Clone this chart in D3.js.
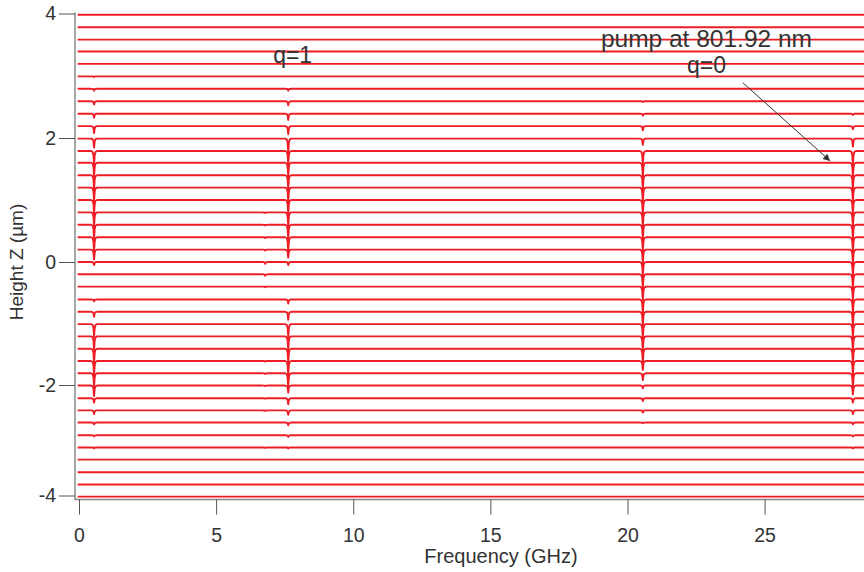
<!DOCTYPE html>
<html><head><meta charset="utf-8">
<script src="https://cdn.jsdelivr.net/npm/d3@7"></script>
<style>
body{margin:0;background:#fff;}
svg{display:block;}
text{font-family:"Liberation Sans",Arial,sans-serif;fill:#333;}
</style>
</head><body>
<svg id="c" width="864" height="572"></svg>
<script>
// ---- data ----
// vertical position (Height Z, µm) of each of the 40 spectra, top to bottom
const traceHeights = [3.98,3.78,3.58,3.39,3.19,2.99,2.79,2.59,2.39,2.19,
  1.99,1.79,1.60,1.40,1.20,1.00,0.80,0.60,0.40,0.20,
  0.00,-0.20,-0.40,-0.61,-0.81,-1.01,-1.21,-1.41,-1.61,-1.81,
  -2.01,-2.24,-2.46,-2.68,-2.91,-3.13,-3.35,-3.58,-3.80,-4.02];
// dip (resonance) frequencies in GHz
const dipFreqs = [0.55, 6.79, 7.63, 20.56, 28.22];
// dip depths per trace (same units as the height axis), one array per resonance
const dip055 = [0,0,0,0,0,0.01,0.03,0.05,0.065,0.11,
  0.145,0.23,0.23,0.23,0.23,0.23,0.23,0.23,0.23,0.16,
  0.05,0,0,0.03,0.08,0.21,0.23,0.23,0.23,0.21,
  0.19,0.08,0.065,0.03,0.02,0.02,0,0,0,0];
const dip679 = [0,0,0,0,0,0,0,0,0,0,
  0,0,0,0,0,0,0.01,0.01,0.015,0.015,
  0.03,0.025,0.01,0,0,0,0,0,0.01,0.01,
  0.01,0.01,0.01,0,0,0.01,0,0,0,0];
const dip763 = [0,0,0,0,0,0,0.03,0.065,0.1,0.13,
  0.23,0.23,0.23,0.23,0.23,0.23,0.23,0.23,0.23,0.13,
  0.05,0,0,0.065,0.13,0.23,0.23,0.23,0.23,0.23,
  0.13,0.11,0.08,0.05,0.03,0.02,0,0,0,0];
const dip2056 = [0,0,0,0,0,0,0,0.01,0.03,0.065,
  0.1,0.23,0.23,0.23,0.23,0.23,0.23,0.23,0.23,0.23,
  0.23,0.23,0.23,0.23,0.23,0.23,0.23,0.23,0.145,0.11,
  0.05,0.05,0.04,0.01,0,0,0,0,0,0];
const dip2822 = [0,0,0,0,0,0,0,0,0.02,0.05,
  0.13,0.23,0.23,0.23,0.23,0.23,0.23,0.23,0.23,0.23,
  0.23,0.23,0.23,0.23,0.23,0.23,0.23,0.23,0.23,0.23,
  0.16,0.08,0.065,0.03,0.02,0.02,0,0,0,0];
const dipDepths = [dip055, dip679, dip763, dip2056, dip2822];
const freqRange = [-0.05, 29];
const xTicks = [0,5,10,15,20,25];
const yTicks = [-4,-2,0,2,4];
// annotations: [freq, height, text]
const labels = [[7.79, 3.20, "q=1"], [22.88, 3.46, "pump at 801.92 nm"], [22.88, 3.04, "q=0"]];
const arrowFrom = [24.2, 2.89], arrowTo = [27.39, 1.63];

// ---- drawing ----
const svg = d3.select("#c");
const x = d3.scaleLinear().domain([0, 25]).range([79, 764.6]);
const y = d3.scaleLinear().domain([-4, -2, 0, 2, 4]).range([495.5, 385, 262, 138, 13.5]);
const font = '"Liberation Sans",Arial,sans-serif';
const fmt = d => String(d);

// resonance line shape (offset GHz, fraction of depth)
const profile = [[-0.11,0],[-0.05,0.07],[-0.022,0.3],[0,1],[0.022,0.3],[0.05,0.07],[0.11,0]];

const traces = traceHeights.map((h, i) => {
  const pts = [[freqRange[0], h]];
  dipFreqs.forEach((f0, k) => {
    const d = dipDepths[k][i];
    if (d > 0) profile.forEach(([df, fr]) => pts.push([f0 + df, h - d * fr]));
  });
  pts.push([freqRange[1], h]);
  return pts;
});

const line = d3.line().x(d => x(d[0])).y(d => y(d[1]));
svg.append("g").selectAll("path").data(traces).join("path")
  .attr("d", line).attr("fill", "none")
  .attr("stroke", "#ee1c25").attr("stroke-width", 1.9)
  .attr("stroke-linejoin", "round");

// axes
const axisCol = "#555";
svg.append("line").attr("x1", 75).attr("x2", 75).attr("y1", 12.5).attr("y2", 499.5)
  .attr("stroke", "#888").attr("stroke-width", 1.5);
svg.append("line").attr("x1", 74.25).attr("x2", 864).attr("y1", 499.5).attr("y2", 499.5)
  .attr("stroke", "#888").attr("stroke-width", 1.5);

const gy = svg.append("g").attr("transform", "translate(75,0)")
  .call(d3.axisLeft(y).tickValues(yTicks).tickSize(16).tickPadding(3).tickFormat(fmt));
gy.select(".domain").remove();
gy.selectAll(".tick line").attr("stroke", axisCol);
gy.selectAll("text").attr("font-size", 19.5).attr("fill", "#333").style("font-family", font);

const gx = svg.append("g").attr("transform", "translate(0,499.5)")
  .call(d3.axisBottom(x).tickValues(xTicks).tickSize(15).tickPadding(14).tickFormat(fmt));
gx.select(".domain").remove();
gx.selectAll(".tick line").attr("stroke", axisCol);
gx.selectAll("text").attr("font-size", 19.5).attr("fill", "#333").style("font-family", font);

svg.append("text").attr("x", 501).attr("y", 563).attr("text-anchor", "middle")
  .attr("font-size", 20).text("Frequency (GHz)");
svg.append("text").attr("transform", "translate(23,262) rotate(-90)").attr("text-anchor", "middle")
  .attr("font-size", 19).text("Height Z (µm)");

// annotations
svg.append("g").selectAll("text").data(labels).join("text")
  .attr("x", d => x(d[0])).attr("y", d => y(d[1])).attr("text-anchor", "middle")
  .attr("font-size", d => d[2].length > 5 ? 24.5 : 23).text(d => d[2]);

svg.append("defs").append("marker").attr("id", "ah").attr("viewBox", "0 0 10 10")
  .attr("refX", 10).attr("refY", 5).attr("markerWidth", 11).attr("markerHeight", 7)
  .attr("markerUnits", "userSpaceOnUse").attr("orient", "auto")
  .append("path").attr("d", "M0,0L10,5L0,10Z").attr("fill", "#333");
svg.append("line")
  .attr("x1", x(arrowFrom[0])).attr("y1", y(arrowFrom[1]))
  .attr("x2", x(arrowTo[0])).attr("y2", y(arrowTo[1]))
  .attr("stroke", "#333").attr("stroke-width", 1).attr("marker-end", "url(#ah)");
</script>
</body></html>
